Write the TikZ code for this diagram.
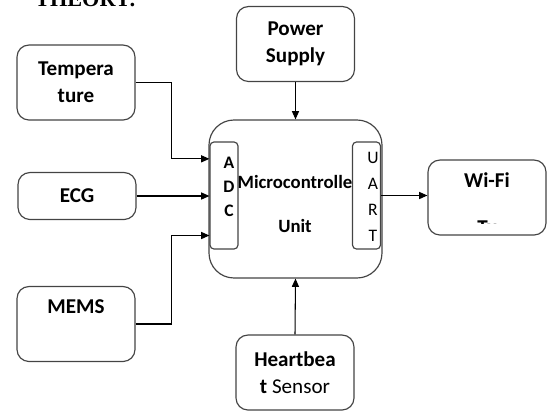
\documentclass[tikz,border=0pt]{standalone}
\usepackage{fontspec}
\setmainfont{Carlito}
\newfontfamily\headfont{Liberation Serif}
\usetikzlibrary{arrows.meta,positioning}
\definecolor{boxgray}{HTML}{444444}
\tikzset{
  blockbox/.style={
    rectangle, rounded corners=#1, draw=boxgray, line width=1pt,
    minimum width=3.54cm, minimum height=2.25cm,
    font=\fontsize{18}{23}\selectfont\bfseries, align=center,
    inner sep=2pt
  },
  blockbox/.default=0.36cm,
  portbox/.style={
    rectangle, rounded corners=0.12cm, draw=boxgray, line width=1pt,
    minimum width=0.84cm, minimum height=3.21cm, inner sep=0pt
  },
  adclabel/.style={
    font=\fontsize{15}{20.5}\selectfont\bfseries, align=center, inner sep=0pt
  },
  uartlabel/.style={
    font=\fontsize{15}{22}\selectfont, align=center, inner sep=0pt
  },
  sigarrow/.style={
    -{Triangle[length=7pt, width=6pt]}, line width=0.9pt, color=black
  },
}

\begin{document}
\begin{tikzpicture}[x=0.03cm, y=-0.03cm]
  \clip (0,0) rectangle (548,412);
  \node[font=\headfont\bfseries\fontsize{19}{22}\selectfont, anchor=base west, inner sep=0pt] (heading) at (35,6) {THEORY:};
  % controller with its two ports
  \node[blockbox=0.75cm, minimum width=5.19cm, minimum height=4.74cm] (mcu) at (295.5,199) {};
  \node[portbox] (adc) at (224,195.5) {};
  \node[portbox] (uart) at (366.5,195.5) {};
  \node[adclabel] (adclbl) at (229,187) {A\\D\\C};
  \node[uartlabel] (uartlbl) at (373,197) {U\\A\\R\\T};
  \node[font=\fontsize{16}{37.5}\selectfont\bfseries, align=center, inner sep=0pt] (mcutext) at (295,204) {Microcontrolle\\Unit};
  % blocks round it
  \node[blockbox] (temp) at (76,82.5) {Tempera\\ture};
  \node[blockbox, minimum height=1.41cm] (ecg) at (77,196) {ECG};
  \node[blockbox] (mems) at (76,324) {MEMS\\ \strut};
  \node[blockbox] (power) at (295.5,44) {Power\\Supply};
  \node[blockbox] (heart) at (295,372.5) {Heartbea\\t \mdseries Sensor};
  \node[blockbox] (wifi) at (487,197.5) {Wi-Fi\\ \strut};
  \begin{scope}
    \clip (430,214) rectangle (545,223.5);
    \node[font=\fontsize{18}{23}\selectfont\bfseries, anchor=base, inner sep=0pt] (wifitx) at (487,234) {Tx};
  \end{scope}
  \coordinate (tin) at ([yshift=1.1cm]adc.west);
  \coordinate (min) at ([yshift=-1.2cm]adc.west);
  \draw[sigarrow] (temp.east) -| ([xshift=-1.14cm]tin) -- (tin);
  \draw[sigarrow] (ecg.east) -- (ecg.east -| adc.west);
  \draw[sigarrow] (mems.east) -| ([xshift=-1.14cm]min) -- (min);
  \draw[sigarrow] (power.south) -- (mcu.north);
  \draw[sigarrow] (heart.north) -- (mcu.south);
  \draw[sigarrow] (uart.east) -- (uart.east -| wifi.west);
\end{tikzpicture}
\end{document}
